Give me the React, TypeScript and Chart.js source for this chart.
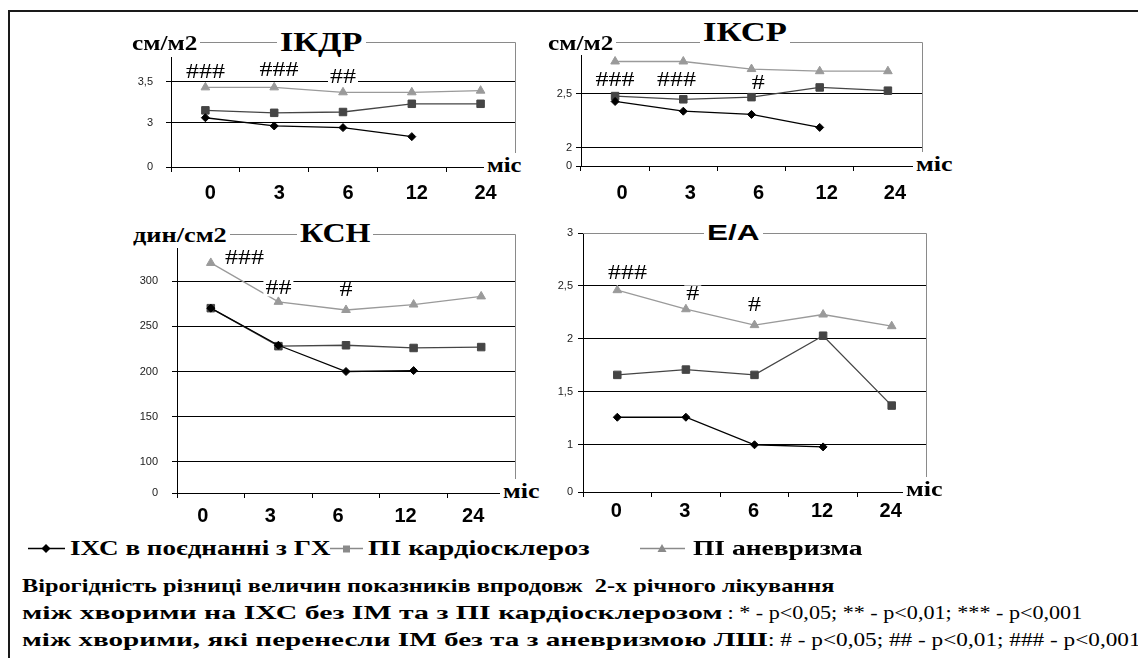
import React, { useEffect, useLayoutEffect, useRef, useState } from "react";
import { Chart, registerables } from "chart.js";

Chart.register(...registerables);

// ---------- data ----------
const months = ["0", "3", "6", "12", "24"];
const seriesNames = ["ІХС в поєднанні з ГХ", "ПІ кардіосклероз", "ПІ аневризма"];

// ІКДР, см/м2
const ikdrIhd = [3.06, 2.96, 2.94, 2.83, null];
const ikdrCardio = [3.15, 3.12, 3.13, 3.23, 3.23];
const ikdrAneur = [3.43, 3.43, 3.37, 3.37, 3.39];
const ikdrTickValues = [2.46, 3, 3.5];
const ikdrTickLabels = ["0", "3", "3,5"];
const ikdrMarks: [string, number, number][] = [["###", 0, 3.62], ["###", 1.07, 3.65], ["##", 2, 3.56]];

// ІКСР, см/м2
const iksrIhd = [2.43, 2.34, 2.31, 2.19, null];
const iksrCardio = [2.48, 2.45, 2.47, 2.56, 2.53];
const iksrAneur = [2.8, 2.8, 2.73, 2.71, 2.71];
const iksrTickValues = [1.833, 2, 2.5];
const iksrTickLabels = ["0", "2", "2,5"];
const iksrMarks: [string, number, number][] = [["###", 0, 2.63], ["###", 0.9, 2.63], ["#", 2.1, 2.6]];

// КСН, дин/см2
const ksnIhd = [270, 229, 200, 201, null];
const ksnCardio = [270, 228, 229, 226, 227];
const ksnAneur = [320, 277, 268, 274, 283];
const ksnTickValues = [65.7, 100, 150, 200, 250, 300];
const ksnTickLabels = ["0", "100", "150", "200", "250", "300"];
const ksnMarks: [string, number, number][] = [["###", 0.5, 326], ["##", 1.0, 293], ["#", 2, 290]];

// E/A
const eaIhd = [1.26, 1.26, 1.0, 0.98, null];
const eaCardio = [1.66, 1.71, 1.66, 2.03, 1.37];
const eaAneur = [2.46, 2.28, 2.13, 2.23, 2.12];
const eaTickValues = [0.554, 1, 1.5, 2, 2.5, 3];
const eaTickLabels = ["0", "1", "1,5", "2", "2,5", "3"];
const eaMarks: [string, number, number][] = [["###", 0.15, 2.62], ["#", 1.1, 2.43], ["#", 2, 2.32]];

// ---------- styles ----------
const SERIF = '"Liberation Serif", "Times New Roman", serif';
const SANS = '"Liberation Sans", Arial, sans-serif';

const seriesStyles = [
  { color: "#000000", point: "rectRot", radius: 4, width: 1.3 },
  { color: "#454545", point: "rect", radius: 5.3, width: 1.3 },
  { color: "#9a9a9a", point: "triangle", radius: 5, width: 1.3 },
];

type Mark = [string, number, number];
interface PanelDef {
  series: (number | null)[][];
  yMin: number;
  yMax: number;
  tickValues: number[];
  tickLabels: string[];
  marks: Mark[];
  box: { left: number; top: number; width: number; height: number };
  area: { left: number; top: number; right: number; bottom: number };
  frameGap: number;
  yPad: number;
  xPad: number;
  labelOffset: number;
}

const Y_W = 50;
const X_H = 40;

const panels: PanelDef[] = [
  {
    series: [ikdrIhd, ikdrCardio, ikdrAneur],
    yMin: 2.46, yMax: 3.8,
    tickValues: ikdrTickValues, tickLabels: ikdrTickLabels, marks: ikdrMarks,
    box: { left: 100, top: 20, width: 430, height: 200 },
    area: { left: 171, top: 57, right: 515, bottom: 167 },
    frameGap: 15, yPad: 13, xPad: 9, labelOffset: 5,
  },
  {
    series: [iksrIhd, iksrCardio, iksrAneur],
    yMin: 1.833, yMax: 2.86,
    tickValues: iksrTickValues, tickLabels: iksrTickLabels, marks: iksrMarks,
    box: { left: 520, top: 20, width: 420, height: 200 },
    area: { left: 581, top: 55, right: 922, bottom: 166 },
    frameGap: 13, yPad: 4, xPad: 10, labelOffset: 7,
  },
  {
    series: [ksnIhd, ksnCardio, ksnAneur],
    yMin: 65.7, yMax: 336.5,
    tickValues: ksnTickValues, tickLabels: ksnTickLabels, marks: ksnMarks,
    box: { left: 100, top: 215, width: 430, height: 320 },
    area: { left: 177, top: 248, right: 515, bottom: 493 },
    frameGap: 14, yPad: 14, xPad: 6, labelOffset: -8,
  },
  {
    series: [eaIhd, eaCardio, eaAneur],
    yMin: 0.554, yMax: 3,
    tickValues: eaTickValues, tickLabels: eaTickLabels, marks: eaMarks,
    box: { left: 520, top: 215, width: 420, height: 320 },
    area: { left: 583, top: 233, right: 926, bottom: 492 },
    frameGap: 0, yPad: 5, xPad: 2, labelOffset: -1,
  },
];

function makePlugin(def: PanelDef) {
  return {
    id: "figureDecor",
    beforeDatasetsDraw(chart: any) {
      const { ctx, chartArea: a } = chart;
      const top = Math.round(a.top - def.frameGap) + 0.5;
      const right = Math.round(a.right) + 0.5;
      ctx.save();
      ctx.strokeStyle = "#8a8a8a";
      ctx.lineWidth = 1;
      ctx.beginPath();
      ctx.moveTo(a.left, top);
      ctx.lineTo(right, top);
      ctx.lineTo(right, a.bottom);
      ctx.stroke();
      ctx.restore();
    },
    afterDatasetsDraw(chart: any) {
      const { ctx } = chart;
      const xs = chart.scales.x;
      const ys = chart.scales.y;
      const stretch = 1.3;
      ctx.save();
      ctx.font = `20px ${SERIF}`;
      ctx.textBaseline = "middle";
      ctx.textAlign = "left";
      for (const [t, i, v] of def.marks) {
        const px = xs.getPixelForValue(i);
        const py = ys.getPixelForValue(v);
        const w = ctx.measureText(t).width * stretch;
        ctx.fillStyle = "#ffffff";
        ctx.fillRect(px - w / 2 - 2, py - 8, w + 4, 17);
        ctx.save();
        ctx.translate(px - w / 2, py + 1);
        ctx.scale(stretch, 1);
        ctx.fillStyle = "#000000";
        ctx.fillText(t, 0, 0);
        ctx.restore();
      }
      ctx.restore();
    },
  };
}

function Panel({ def }: { def: PanelDef }) {
  const ref = useRef<HTMLCanvasElement>(null);
  useEffect(() => {
    const canvas = ref.current;
    if (!canvas) return;
    const { box, area } = def;
    const padding = {
      left: area.left - box.left - Y_W,
      top: area.top - box.top,
      right: box.left + box.width - area.right,
      bottom: box.top + box.height - area.bottom - X_H,
    };
    const chart = new Chart(canvas, {
      type: "line",
      data: {
        labels: months,
        datasets: def.series.map((s, k) => ({
          label: seriesNames[k],
          data: s,
          borderColor: seriesStyles[k].color,
          backgroundColor: seriesStyles[k].color,
          borderWidth: seriesStyles[k].width,
          pointStyle: seriesStyles[k].point as any,
          pointRadius: seriesStyles[k].radius,
          pointBorderWidth: 1,
          pointBackgroundColor: seriesStyles[k].color,
          pointBorderColor: seriesStyles[k].color,
          tension: 0,
          spanGaps: false,
          fill: false,
        })),
      },
      options: {
        animation: false,
        responsive: false,
        maintainAspectRatio: false,
        devicePixelRatio: 1,
        events: [],
        layout: { padding },
        plugins: {
          legend: { display: false },
          tooltip: { enabled: false },
          title: { display: false },
        },
        scales: {
          x: {
            type: "category",
            offset: true,
            grid: {
              display: true,
              drawOnChartArea: false,
              drawTicks: true,
              tickLength: 5,
              offset: true,
              color: "#000000",
            },
            border: { display: true, color: "#000000", width: 1 },
            ticks: {
              font: { family: SANS, size: 20, weight: "bold" },
              color: "#000000",
              padding: def.xPad,
              labelOffset: def.labelOffset,
              maxRotation: 0,
              autoSkip: false,
            },
            afterFit: (s: any) => {
              s.height = X_H;
            },
          },
          y: {
            type: "linear",
            min: def.yMin,
            max: def.yMax,
            afterBuildTicks: (s: any) => {
              s.ticks = def.tickValues.map((v) => ({ value: v }));
            },
            ticks: {
              callback: (_v: any, i: number) => def.tickLabels[i],
              font: { family: SANS, size: 11 },
              color: "#222222",
              padding: def.yPad,
            },
            grid: { color: "#000000", lineWidth: 1, tickLength: 5, drawTicks: true },
            border: { display: true, color: "#000000", width: 1 },
            afterFit: (s: any) => {
              s.width = Y_W;
            },
          },
        },
      },
      plugins: [makePlugin(def)],
    } as any);
    return () => chart.destroy();
  }, [def]);
  return (
    <canvas
      ref={ref}
      width={def.box.width}
      height={def.box.height}
      style={{
        position: "absolute",
        left: def.box.left,
        top: def.box.top,
        width: def.box.width,
        height: def.box.height,
      }}
    />
  );
}

interface FitProps {
  text: string;
  left: number;
  cy: number;
  width: number;
  size: number;
  weight?: string;
  family?: string;
  bg?: boolean;
}

function FitText({ text, left, cy, width, size, weight = "bold", family = SERIF, bg = false }: FitProps) {
  const ref = useRef<HTMLSpanElement>(null);
  const [sx, setSx] = useState(1);
  useLayoutEffect(() => {
    let alive = true;
    const measure = () => {
      if (!alive || !ref.current) return;
      const w = ref.current.offsetWidth;
      if (w > 0) setSx(width / w);
    };
    measure();
    const fonts: any = (document as any).fonts;
    if (fonts && fonts.ready) fonts.ready.then(measure);
    return () => {
      alive = false;
    };
  }, [text, width, size, weight, family]);
  const height = Math.round(size * 1.15);
  const pad = bg ? 3 : 0;
  return (
    <div
      style={{
        position: "absolute",
        left: left - pad,
        top: cy - height / 2,
        width: width + pad * 2,
        height,
        lineHeight: `${height}px`,
        background: bg ? "#ffffff" : "transparent",
        whiteSpace: "pre",
        overflow: "visible",
      }}
    >
      <span
        ref={ref}
        style={{
          display: "inline-block",
          marginLeft: pad,
          fontFamily: family,
          fontSize: size,
          fontWeight: weight as any,
          color: "#000000",
          transform: `scaleX(${sx})`,
          transformOrigin: "0 50%",
        }}
      >
        {text}
      </span>
    </div>
  );
}

const overlayTexts: FitProps[] = [
  // titles
  { text: "ІКДР", left: 280, cy: 42, width: 83, size: 28, bg: true },
  { text: "ІКСР", left: 703, cy: 32, width: 84, size: 28, bg: true },
  { text: "КСН", left: 300, cy: 233, width: 70, size: 27, bg: true },
  { text: "E/A", left: 707, cy: 232, width: 53, size: 22, family: SANS, bg: true },
  // units
  { text: "см/м2", left: 132, cy: 43, width: 65, size: 21, bg: true },
  { text: "см/м2", left: 548, cy: 43, width: 65, size: 21, bg: true },
  { text: "дин/см2", left: 133, cy: 235, width: 94, size: 21, bg: true },
  // month axis labels
  { text: "міс", left: 487, cy: 165, width: 34, size: 21, bg: true },
  { text: "міс", left: 916, cy: 164, width: 36, size: 21, bg: true },
  { text: "міс", left: 503, cy: 491, width: 36, size: 21, bg: true },
  { text: "міс", left: 906, cy: 489, width: 36, size: 21, bg: true },
];

const LEG_Y = 548;
const legendTexts: FitProps[] = [
  { text: seriesNames[0], left: 70, cy: LEG_Y, width: 260, size: 20 },
  { text: seriesNames[1], left: 368, cy: LEG_Y, width: 222, size: 20 },
  { text: seriesNames[2], left: 693, cy: LEG_Y, width: 169, size: 20 },
];

const footerTexts: FitProps[] = [
  { text: "Вірогідність різниці величин показників впродовж  2-х річного лікування", left: 22, cy: 586, width: 813, size: 19 },
  { text: "між хворими на ІХС без ІМ та з ПІ кардіосклерозом", left: 22, cy: 613, width: 700, size: 19 },
  { text: " : * - p<0,05; ** - p<0,01; *** - p<0,001", left: 722, cy: 613, width: 360, size: 19, weight: "normal" },
  { text: "між хворими, які перенесли ІМ без та з аневризмою ЛШ", left: 22, cy: 640, width: 746, size: 19 },
  { text: ": # - p<0,05; ## - p<0,01; ### - p<0,001", left: 768, cy: 640, width: 372, size: 19, weight: "normal" },
];

export default function App() {
  return (
    <div
      style={{
        position: "absolute",
        left: 0,
        top: 0,
        width: 1138,
        height: 658,
        overflow: "hidden",
        background: "#ffffff",
      }}
    >
      <div
        style={{
          position: "absolute",
          left: 8,
          top: 10,
          width: 1200,
          height: 700,
          border: "2px solid #1a1a1a",
        }}
      />
      {panels.map((p, i) => (
        <Panel key={i} def={p} />
      ))}
      {overlayTexts.map((t, i) => (
        <FitText key={"o" + i} {...t} />
      ))}
      <svg
        width={1138}
        height={20}
        style={{ position: "absolute", left: 0, top: LEG_Y - 10 }}
      >
        <line x1={28} x2={65} y1={10.5} y2={10.5} stroke="#000" strokeWidth={1.5} />
        <polygon points="46,6 50.5,10.5 46,15 41.5,10.5" fill="#000" />
        <line x1={330} x2={363} y1={10.5} y2={10.5} stroke="#8a8a8a" strokeWidth={1.5} />
        <rect x={343} y={7.5} width={7} height={7} fill="#8a8a8a" />
        <line x1={640} x2={685} y1={10.5} y2={10.5} stroke="#8a8a8a" strokeWidth={1.5} />
        <polygon points="662,6 666.5,14 657.5,14" fill="#8a8a8a" />
      </svg>
      {legendTexts.map((t, i) => (
        <FitText key={"l" + i} {...t} />
      ))}
      {footerTexts.map((t, i) => (
        <FitText key={"f" + i} {...t} />
      ))}
    </div>
  );
}
